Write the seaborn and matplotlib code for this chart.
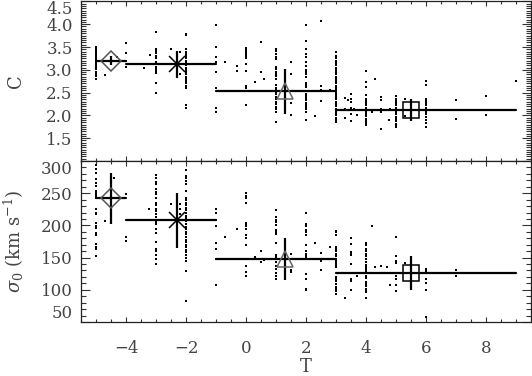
import numpy as np
import pandas as pd
import matplotlib
matplotlib.use("Agg")
import matplotlib.pyplot as plt
import seaborn as sns
from matplotlib.ticker import MultipleLocator

# concentration C, one list per T column
c_cols_T = [-5, -4.7, -4.3, -4, -3.4, -3.2, -3, -2.5, -2.2, -2, -1, -0.7, -0.3, 0, 0.3, 0.5, 0.6,
            1, 1.5, 2, 2.3, 2.5, 2.8, 3, 3.3, 3.4, 3.5, 3.6, 3.7, 4, 4.2, 4.3, 4.5, 4.75, 4.8,
            5, 5.3, 5.5, 6, 7, 8, 9]
c_cols = [
    [3.50, 3.46, 3.42, 3.38, 3.35, 3.31, 3.28, 3.25, 3.22, 3.20, 3.18, 3.15, 3.12, 3.09, 3.05,
     3.01, 2.96, 2.91, 2.86, 2.80],
    [2.88], [3.29],
    [3.58, 3.37, 3.20, 3.06],
    [3.04], [3.33],
    [3.82, 3.46, 3.42, 3.37, 3.31, 3.25, 3.17, 3.12, 3.07, 3.02, 2.97, 2.92, 2.70, 2.50],
    [3.46], [3.40, 2.90],
    [3.79, 3.76, 3.45, 3.40, 3.35, 3.30, 3.25, 3.20, 3.15, 3.10, 3.05, 3.00, 2.95, 2.90, 2.85,
     2.80, 2.75, 2.70, 2.65, 2.60, 2.23, 2.16],
    [3.98, 3.49, 3.29, 3.17, 2.95, 2.60, 2.17, 2.08],
    [3.17], [3.09, 2.97],
    [3.47, 3.43, 3.39, 3.35, 3.31, 3.26, 3.12, 2.98, 2.64, 2.60, 2.22],
    [2.73], [3.60, 2.96], [2.80],
    [3.46, 3.41, 3.35, 3.29, 3.24, 3.06, 3.01, 2.96, 2.91, 2.86, 2.80, 2.66, 2.61, 2.57, 2.52,
     2.46, 2.40, 2.35, 2.30, 2.25, 2.19, 2.14, 2.08, 1.86],
    [3.17, 2.91, 2.27, 2.00],
    [3.98, 3.64, 3.46, 3.35, 3.27, 3.17, 3.09, 3.00, 2.95, 2.91, 2.85, 2.70, 2.66, 2.62, 2.48,
     2.43, 2.38, 2.33, 2.28, 2.23, 2.18, 2.13, 2.08, 1.90],
    [1.99], [4.07, 2.64, 2.55, 2.32], [2.55],
    [3.38, 3.31, 3.25, 3.20, 3.15, 3.10, 3.05, 3.00, 2.95, 2.90, 2.85, 2.80, 2.75, 2.70, 2.65,
     2.60, 2.55, 2.50, 2.45, 2.40, 2.35, 2.30, 2.25, 2.20, 2.15, 2.10, 2.05, 2.00, 1.95, 1.90, 1.86],
    [2.39, 2.13, 1.95], [2.33],
    [2.48, 2.36, 2.30, 2.16, 2.02, 1.88],
    [2.15], [2.00],
    [2.97, 2.73, 2.62, 2.45, 2.37, 2.32, 2.27, 2.22, 2.17, 2.12, 2.08, 2.03, 1.98, 1.93, 1.88,
     1.83, 1.79],
    [2.08], [2.79],
    [2.40, 2.33, 2.15, 2.08, 1.70],
    [1.91], [2.14],
    [2.42, 2.37, 2.32, 2.27, 2.22, 2.17, 2.12, 2.07, 2.02, 1.97, 1.92, 1.87, 1.82, 1.77, 1.74],
    [2.35, 1.98], [2.33, 1.90],
    [2.75, 2.66, 2.37, 2.32, 2.27, 2.22, 2.17, 2.12, 2.07, 2.02, 1.97, 1.90, 1.83, 1.75],
    [2.33, 1.93], [2.43, 2.00], [2.75],
]

# central velocity dispersion sigma_0, one list per T column
s_cols_T = [-5, -4.7, -4.4, -4, -3.25, -3, -2.5, -2.2, -2, -1, -0.7, -0.3, 0, 0.3, 0.5, 0.6,
            1, 1.5, 2, 2.3, 2.5, 2.8, 3, 3.3, 3.5, 3.7, 4, 4.2, 4.3, 4.5, 4.7, 4.8, 5, 5.3, 6, 7]
s_cols = [
    [294, 288, 281, 272, 266, 261, 254, 250, 247, 244, 242, 225, 220, 217, 204, 199, 196, 188,
     185, 171, 167, 164, 153],
    [207], [274],
    [248, 182, 175],
    [225],
    [278, 273, 268, 265, 256, 252, 248, 243, 235, 231, 226, 222, 217, 213, 209, 205, 202, 194,
     188, 174, 164, 161, 154, 148, 140],
    [234], [233, 226, 217],
    [286, 277, 273, 269, 264, 254, 243, 239, 235, 231, 227, 224, 220, 215, 211, 207, 202, 198,
     194, 190, 186, 182, 178, 174, 170, 166, 162, 158, 154, 150, 145, 129, 82],
    [225, 220, 209, 199, 173, 164, 148, 108],
    [182], [194],
    [250, 246, 242, 235, 203, 201, 199, 194, 185, 180, 169, 137, 127, 122],
    [151], [161, 143], [147],
    [224, 213, 208, 205, 200, 193, 190, 186, 172, 154, 151, 143, 137, 132, 126, 121, 117],
    [155, 130, 128],
    [220, 202, 199, 193, 189, 185, 169, 161, 156, 154, 151, 124, 117, 102, 99],
    [172], [157, 144, 131], [166],
    [192, 189, 185, 167, 163, 160, 156, 152, 148, 145, 141, 138, 135, 120, 117, 113, 109, 105,
     101, 98, 94],
    [87],
    [181, 171, 159, 157, 154, 140, 116, 113, 99],
    [121],
    [173, 169, 164, 160, 156, 152, 148, 143, 139, 136, 132, 129, 122, 119, 112, 109, 106, 102,
     99, 96, 88],
    [199], [136], [137], [136], [108],
    [182, 152, 144, 141, 122, 116, 107, 98],
    [141],
    [133, 129, 117, 110, 100, 57],
    [130, 121],
]

# binned means
bin_lo = [-5, -4, -1, 3]
bin_hi = [-4, -1, 3, 9]
mark_T = [-4.5, -2.3, 1.3, 5.5]
c_mean = [3.20, 3.12, 2.53, 2.11]
c_err = [0.10, 0.29, 0.49, 0.24]
s_mean = [242, 208, 148, 126]
s_err = [40, 43, 33, 26]
markers = ["D", "x", "^", "s"]
msizes = [10, 12, 11.5, 11.5]
mcolors = ["#555555", "black", "#666666", "black"]

c_ticks = [1.5, 2.0, 2.5, 3.0, 3.5, 4.0, 4.5]
c_labels = ["1.5", "2.0", "2.5", "3.0", "3.5", "4.0", "4.5"]
s_ticks = [50, 100, 150, 200, 250, 300]
s_labels = ["50", "100", "150", "200", "250", "300"]

top_df = pd.DataFrame({"T": np.repeat(c_cols_T, [len(c) for c in c_cols]),
                       "C": np.concatenate(c_cols)})
bot_df = pd.DataFrame({"T": np.repeat(s_cols_T, [len(c) for c in s_cols]),
                       "s": np.concatenate(s_cols)})

sns.set_style("ticks")
plt.rcParams["font.family"] = ["DejaVu Serif"]
plt.rcParams["mathtext.fontset"] = "dejavuserif"

fig = plt.figure(figsize=(5.32, 3.76), dpi=100)
ax1 = fig.add_axes([81 / 532, 215 / 376, 450 / 532, 160.5 / 376])
ax2 = fig.add_axes([81 / 532, 54 / 376, 450 / 532, 161 / 376])


def draw(ax, df, ycol, mean, err):
    sns.scatterplot(data=df, x="T", y=ycol, ax=ax, marker="s", s=3.8, color="black",
                    linewidth=0, legend=False)
    for i in range(len(mean)):
        ax.plot([bin_lo[i], bin_hi[i]], [mean[i], mean[i]], color="black", lw=1.6)
        ax.errorbar(mark_T[i], mean[i], yerr=err[i], fmt="none", ecolor="black",
                    elinewidth=1.6, capsize=0)
        ax.plot(mark_T[i], mean[i], marker=markers[i], ms=msizes[i], mfc="none",
                mec=mcolors[i], mew=1.1, ls="none")


draw(ax1, top_df, "C", c_mean, c_err)
draw(ax2, bot_df, "s", s_mean, s_err)

ax1.set_ylim(1.0, 4.52)
ax2.set_ylim(50, 300)
for ax in (ax1, ax2):
    ax.set_xlim(-5.5, 9.5)
    ax.xaxis.set_major_locator(MultipleLocator(2))
    ax.xaxis.set_minor_locator(MultipleLocator(0.5))
    ax.tick_params(which="both", direction="in", top=True, right=True,
                   labelsize=12, labelcolor="#444444", color="#333333", width=0.8)
    ax.tick_params(axis="y", which="major", length=6.5, pad=6)
    ax.tick_params(axis="y", which="minor", length=3.5)
    ax.tick_params(axis="x", which="major", length=3.5, pad=13)
    ax.tick_params(axis="x", which="minor", length=2.5)
    for sp in ax.spines.values():
        sp.set_linewidth(0.9)
        sp.set_color("#222222")

ax1.set_yticks(c_ticks, c_labels)
ax1.yaxis.set_minor_locator(MultipleLocator(0.05))
ax2.set_yticks(s_ticks, s_labels)
ax2.yaxis.set_minor_locator(MultipleLocator(10))
ax1.tick_params(axis="x", labelbottom=False)

# keep edge labels inside their own panel
ax1.get_yticklabels()[-1].set_va("top")
ax2.get_yticklabels()[-1].set_va("top")
ax2.get_yticklabels()[0].set_va("bottom")

ax1.set_xlabel("")
ax1.set_ylabel("C", fontsize=13, color="#444444")
ax2.set_ylabel(r"$\sigma_0$ (km s$^{-1}$)", fontsize=13, color="#444444")
ax2.set_xlabel("T", fontsize=13, color="#444444", labelpad=1)
ax1.yaxis.set_label_coords(-0.125, 0.5)
ax2.yaxis.set_label_coords(-0.122, 0.5)

fig.savefig("out.png", dpi=100)
